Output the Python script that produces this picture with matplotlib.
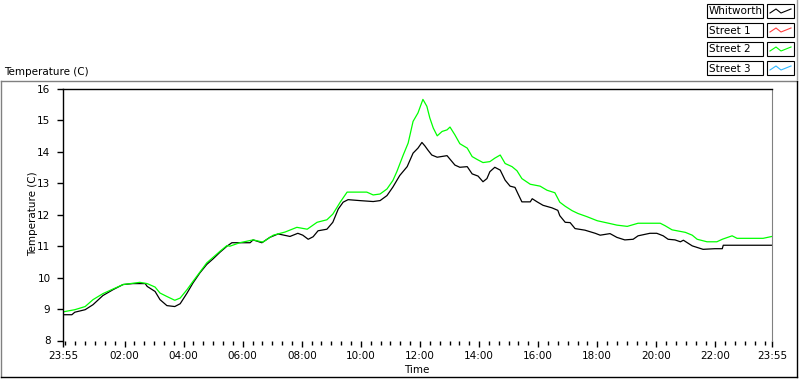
import matplotlib
matplotlib.use('Agg')
import matplotlib.pyplot as plt
from matplotlib.lines import Line2D
from matplotlib.patches import Rectangle

plt.rcParams['font.family'] = ['DejaVu Sans']

# Minutes after 23:55 for each reading, and the temperatures (C)
whitworth_min = [0, 18, 24, 45, 61, 81, 102, 122, 142, 167, 171, 187, 197, 211, 227,
                 238, 252, 264, 278, 292, 305, 319, 333, 343, 359, 380, 386, 404, 420,
                 437, 461, 477, 487, 498, 508, 518, 536, 548, 559, 569, 579, 603, 630,
                 644, 658, 670, 684, 699, 711, 721, 729, 735, 741, 749, 760, 780, 796,
                 806, 821, 831, 843, 853, 861, 867, 877, 888, 898, 908, 918, 924, 932,
                 949, 953, 963, 975, 993, 1005, 1009, 1020, 1030, 1040, 1060, 1081,
                 1091, 1111, 1125, 1141, 1158, 1168, 1192, 1206, 1219, 1229, 1243,
                 1254, 1260, 1267, 1278, 1290, 1300, 1324, 1339, 1341, 1440]
whitworth_temp = [8.82, 8.82, 8.90, 8.98, 9.14, 9.43, 9.62, 9.78, 9.81, 9.81, 9.72,
                  9.56, 9.30, 9.11, 9.08, 9.17, 9.51, 9.83, 10.15, 10.42, 10.60, 10.81,
                  11.00, 11.11, 11.11, 11.11, 11.20, 11.11, 11.28, 11.39, 11.31, 11.41,
                  11.35, 11.22, 11.30, 11.49, 11.54, 11.76, 12.18, 12.40, 12.48, 12.45,
                  12.42, 12.45, 12.61, 12.88, 13.25, 13.53, 13.96, 14.12, 14.30, 14.19,
                  14.06, 13.90, 13.83, 13.88, 13.58, 13.51, 13.53, 13.30, 13.23, 13.05,
                  13.15, 13.37, 13.51, 13.42, 13.10, 12.91, 12.87, 12.67, 12.41, 12.41,
                  12.51, 12.41, 12.30, 12.22, 12.14, 11.97, 11.76, 11.75, 11.56, 11.51,
                  11.41, 11.35, 11.40, 11.28, 11.20, 11.22, 11.33, 11.41, 11.41, 11.33,
                  11.22, 11.20, 11.14, 11.19, 11.12, 11.01, 10.95, 10.90, 10.92, 10.92,
                  11.03, 11.03]

street2_min = [0, 24, 45, 61, 81, 102, 122, 156, 171, 187, 197, 211, 227, 238, 252,
               264, 292, 319, 333, 339, 359, 386, 406, 427, 451, 475, 496, 516, 536,
               548, 563, 577, 617, 630, 644, 658, 670, 678, 691, 701, 711, 721, 731,
               739, 745, 752, 760, 770, 780, 786, 796, 806, 821, 831, 841, 853, 867,
               877, 888, 898, 912, 922, 932, 949, 969, 983, 999, 1009, 1020, 1034,
               1046, 1064, 1085, 1111, 1125, 1146, 1168, 1213, 1223, 1237, 1264,
               1278, 1288, 1308, 1328, 1339, 1359, 1369, 1422, 1440]
street2_temp = [8.91, 8.98, 9.08, 9.30, 9.49, 9.64, 9.78, 9.85, 9.81, 9.70, 9.51,
                9.40, 9.28, 9.35, 9.62, 9.88, 10.47, 10.84, 11.02, 11.00, 11.11, 11.20,
                11.13, 11.35, 11.45, 11.60, 11.54, 11.76, 11.84, 12.02, 12.40, 12.72,
                12.72, 12.63, 12.66, 12.82, 13.09, 13.37, 13.90, 14.28, 14.97, 15.24,
                15.67, 15.45, 15.08, 14.76, 14.51, 14.65, 14.70, 14.79, 14.54, 14.26,
                14.12, 13.85, 13.76, 13.66, 13.69, 13.80, 13.90, 13.63, 13.53, 13.40,
                13.15, 12.97, 12.91, 12.78, 12.70, 12.40, 12.27, 12.13, 12.04, 11.94,
                11.81, 11.72, 11.67, 11.63, 11.73, 11.73, 11.65, 11.52, 11.44, 11.35,
                11.22, 11.14, 11.14, 11.22, 11.33, 11.25, 11.25, 11.31]

tick_min = [0, 125, 245, 365, 485, 605, 725, 845, 965, 1085, 1205, 1325, 1440]
tick_labels = ['23:55', '02:00', '04:00', '06:00', '08:00', '10:00', '12:00',
               '14:00', '16:00', '18:00', '20:00', '22:00', '23:55']
y_ticks = [8, 9, 10, 11, 12, 13, 14, 15, 16]

legend_names = ['Whitworth', 'Street 1', 'Street 2', 'Street 3']
legend_colors = ['black', '#ff4040', '#00ff00', '#30b8ff']

W, H = 800, 380
FS = 7.5


def fx(px):
    return px / W


def fy(py):
    return 1 - py / H


def pline(fig, xs, ys, color, lw=1.0):
    fig.add_artist(Line2D([fx(x) for x in xs], [fy(y) for y in ys],
                          color=color, lw=lw, transform=fig.transFigure))


fig = plt.figure(figsize=(W / 100, H / 100), dpi=100)

# outer frame (sunken look)
pline(fig, [0.5, 797], [80.5, 80.5], '#808080')
pline(fig, [0.5, 0.5], [80.5, 377], '#808080')
pline(fig, [797, 797], [80.5, 377], 'black')
pline(fig, [0.5, 797], [377, 377], 'black')
pline(fig, [796.5, 796.5], [0, 79], '#a0a0a0')

fig.text(fx(4), fy(72), 'Temperature (C)', fontsize=FS, va='center', ha='left')

ax = fig.add_axes([fx(63), fy(340.5), fx(772 - 63), (340.5 - 89) / H])
ax.plot(whitworth_min, whitworth_temp, color='black', lw=0.9)
ax.plot(street2_min, street2_temp, color='#00ff00', lw=0.9)

ax.set_xlim(0, 1440)
ax.set_ylim(8, 16)
ax.set_yticks(y_ticks)
ax.set_xticks(tick_min)
ax.set_xticklabels(tick_labels)
minor = [m for m in range(5, 1440, 20) if m not in tick_min]
ax.set_xticks(minor, minor=True)
ax.tick_params(axis='both', which='major', labelsize=FS, direction='out', length=4,
               width=1, color='black')
ax.tick_params(axis='y', pad=5)
ax.tick_params(axis='x', which='major', pad=3, length=4.5)
ax.tick_params(axis='x', which='minor', length=3, width=1, direction='out')
ax.spines['bottom'].set_visible(False)
ax.spines['right'].set_color('#808080')
for s in ['left', 'top']:
    ax.spines[s].set_color('black')
    ax.spines[s].set_linewidth(1)

fig.text(fx(33), fy(214), 'Temperature (C)', fontsize=FS, rotation=90,
         ha='center', va='center')
fig.text(fx(417), fy(370), 'Time', fontsize=FS, ha='center', va='center')

# legend boxes
for i, (name, col) in enumerate(zip(legend_names, legend_colors)):
    top = 4 + i * 19
    fig.add_artist(Rectangle((fx(707), fy(top + 14)), 56 / W, 14 / H, fill=False,
                             ec='black', lw=0.8, transform=fig.transFigure))
    fig.add_artist(Rectangle((fx(767), fy(top + 14)), 27 / W, 14 / H, fill=False,
                             ec='black', lw=0.8, transform=fig.transFigure))
    fig.text(fx(709), fy(top + 7.5), name, fontsize=FS, ha='left', va='center')
    pline(fig, [770, 776, 781, 786, 791], [top + 9, top + 5, top + 9, top + 7, top + 5],
          col, lw=0.8)

fig.savefig('out.png', dpi=100)
